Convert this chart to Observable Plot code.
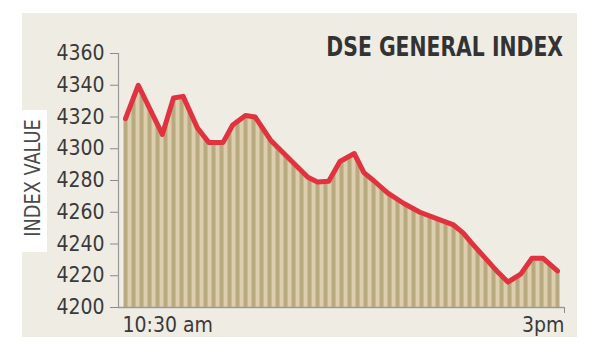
<!DOCTYPE html>
<html>
<head>
<meta charset="utf-8">
<script src="https://cdn.jsdelivr.net/npm/d3@7"></script>
<script src="https://cdn.jsdelivr.net/npm/@observablehq/plot@0.6"></script>
<style>
  html, body { margin: 0; padding: 0; background: #ffffff; }
  #wrap { position: relative; width: 601px; height: 356px; overflow: hidden; font-family: "DejaVu Sans Condensed", "Liberation Sans Narrow", "Liberation Sans", sans-serif; }
  #panel { position: absolute; left: 22px; top: 13px; width: 555px; height: 324px; background: #efece4; }
  #ybox { position: absolute; left: 22px; top: 110px; width: 25px; height: 142px; background: #ffffff; }
  #ylabel { position: absolute; left: 33px; top: 178px; transform: translate(-50%, -50%) rotate(-90deg) scaleX(0.94); white-space: nowrap; font-size: 21px; color: #4a4a4a; }
  #title { position: absolute; right: 38px; top: 32px; font-size: 26px; font-weight: bold; color: #333333; white-space: nowrap; transform: scaleX(0.87); transform-origin: right center; }
  #chart { position: absolute; left: 0; top: 0; }
</style>
</head>
<body>
<div id="wrap">
  <div id="panel"></div>
  <div id="ybox"></div>
  <div id="ylabel">INDEX VALUE</div>
  <div id="chart"></div>
  <div id="title">DSE GENERAL INDEX</div>
</div>
<script>
// Line vertices: minutes after 10:30 am and index value
const lineMinutes = [0, 8, 23, 30, 36, 45, 52, 61, 67, 75, 81, 91, 97, 105, 114, 120, 127, 134, 143, 149, 155, 164, 174, 184, 197, 205, 211, 216, 224, 233, 239, 247, 254, 261, 270];
const lineValues  = [4319, 4340, 4309, 4332, 4333, 4313, 4304, 4304, 4315, 4321, 4320, 4305, 4299, 4291, 4282, 4279, 4279.5, 4292, 4297, 4285, 4280, 4272, 4265.5, 4260, 4255, 4252, 4247, 4241, 4232, 4222, 4216, 4221, 4231, 4231, 4223];

// Striped bars, every 5 minutes from 10:30 am to 3pm
const barMinutes = d3.range(0, 275, 5);
const barValues = [
  4319, 4333, 4335, 4325, 4315, 4315, 4332, 4333, 4324, 4313,
  4306, 4304, 4304, 4312, 4318, 4321, 4320, 4314, 4306, 4301,
  4296, 4291, 4286, 4281, 4279, 4279, 4284, 4291, 4295, 4292,
  4284, 4280, 4276, 4271, 4268, 4265, 4262, 4260, 4258, 4256,
  4254, 4252, 4248, 4242, 4236, 4230, 4225, 4220, 4216, 4220,
  4225, 4231, 4231, 4227, 4223
];
const yTicks = [4200, 4220, 4240, 4260, 4280, 4300, 4320, 4340, 4360];
const xTickLabels = ["10:30 am", "3pm"];

const lineData = lineMinutes.map((t, i) => ({t, v: lineValues[i]}));
const barData = barMinutes.map((t, i) => ({t, v: barValues[i]}));
const xDomain = [-4.375, 274.375];
const font = '"DejaVu Sans Condensed", "Liberation Sans Narrow", "Liberation Sans", sans-serif';

const chart = Plot.plot({
  width: 601,
  height: 356,
  marginLeft: 118,
  marginRight: 37,
  marginTop: 53,
  marginBottom: 49,
  style: {background: "transparent", fontFamily: font, color: "#3a3a3a", overflow: "visible"},
  x: {domain: xDomain, axis: null},
  y: {domain: [4200, 4360], axis: null},
  marks: [
    Plot.areaY(lineData, {x: "t", y1: 4200, y2: "v", fill: "#dccfae"}),
    Plot.ruleX(barData, {x: "t", y1: 4200, y2: "v", stroke: "#b8a980", strokeWidth: 4}),
    Plot.line(lineData, {x: "t", y: "v", stroke: "#e1333f", strokeWidth: 5, strokeLinejoin: "round", strokeLinecap: "round"}),
    Plot.axisY({ticks: yTicks, tickSize: 8, tickPadding: 6, tickFormat: d => String(d), fontSize: 21, stroke: "#8a8a8a", color: "#3a3a3a", label: null}),
    Plot.ruleX([xDomain[0]], {stroke: "#9a9a9a", strokeWidth: 1.2}),
    Plot.ruleY([4200], {stroke: "#9a9a9a", strokeWidth: 1.5}),
    Plot.axisX({ticks: [xDomain[1]], tickSize: 6, tickFormat: () => "", stroke: "#8a8a8a", label: null}),
    Plot.text([xTickLabels[0]], {x: xDomain[0], y: 4200, dy: 18, dx: 4, textAnchor: "start", fontSize: 21, fill: "#3a3a3a"}),
    Plot.text([xTickLabels[1]], {x: xDomain[1], y: 4200, dy: 18, textAnchor: "end", fontSize: 21, fill: "#3a3a3a"})
  ]
});
document.getElementById("chart").appendChild(chart);
</script>
</body>
</html>
